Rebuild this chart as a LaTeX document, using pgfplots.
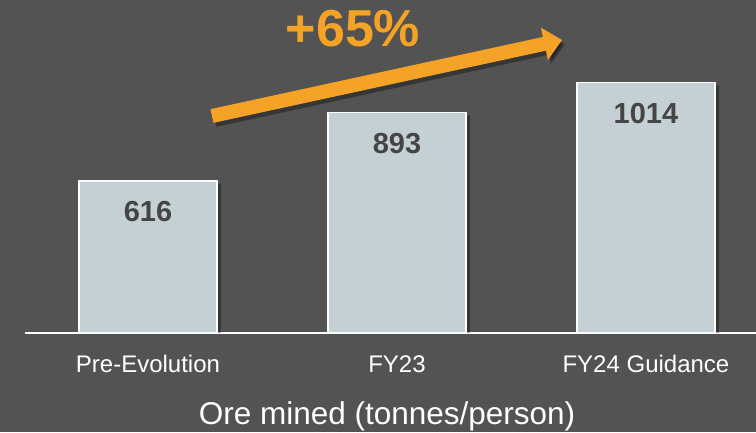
\documentclass[border=0pt]{standalone}
\usepackage{fontspec}
\setmainfont{Liberation Sans}
\usepackage{pgfplots}
\pgfplotsset{compat=1.18}
\usetikzlibrary{arrows.meta}
\definecolor{bg}{HTML}{535353}
\definecolor{barfill}{HTML}{C5D0D5}
\definecolor{valtext}{HTML}{454545}
\definecolor{orng}{HTML}{F5A327}
\begin{document}
\begin{tikzpicture}
\fill[bg] (0,0) rectangle (756pt,432pt);
\begin{axis}[
  at={(25pt,99pt)}, anchor=south west,
  scale only axis, width=731pt, height=333pt,
  xmin=-0.494, xmax=2.442, ymin=0, ymax=1349,
  axis x line=bottom, axis y line=none,
  x axis line style={white, line width=2pt, -},
  xtick={0,1,2},
  xticklabels={Pre-Evolution, FY23, FY24 Guidance},
  major tick length=0pt,
  xticklabel style={anchor=base, yshift=-39pt, text=white, font=\fontsize{24}{28}\selectfont},
  ybar, bar width=138pt,
  clip=false,
]
\addplot[fill=black, draw=none, opacity=0.35, bar shift=4pt] coordinates {(0,605) (1,882) (2,1003)};
\addplot[fill=barfill, draw=white, line width=1.5pt, bar shift=0pt,
  nodes near coords={\pgfmathprintnumber[1000 sep={},assume math mode=true]{\pgfplotspointmeta}},
  every node near coord/.append style={anchor=base, yshift=-41pt, text=valtext, font=\bfseries\fontsize{29}{32}\selectfont}]
  coordinates {(0,616) (1,893) (2,1014)};
\end{axis}
\node[anchor=base, text=white, font=\fontsize{31.5}{36}\selectfont] at (387pt,8pt) {Ore mined (tonnes/person)};
% arrow shadow
\draw[black, opacity=0.35, line width=14pt, -{Triangle[length=18pt,width=32pt]}] (215pt,312pt) -- (565pt,388pt);
\draw[orng, line width=14pt, -{Triangle[length=18pt,width=32pt]}] (212pt,316pt) -- (562pt,392pt);
\node[anchor=base, text=orng, font=\bfseries\fontsize{52}{56}\selectfont] at (353pt,385pt) {+65\%};
\pgfresetboundingbox
\path (0,0) rectangle (756pt,432pt);
\end{tikzpicture}
\end{document}
